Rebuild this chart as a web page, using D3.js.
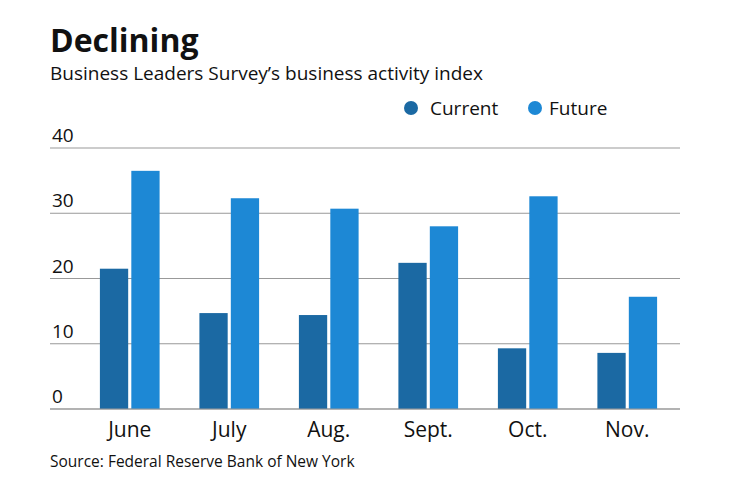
<!DOCTYPE html>
<html><head><meta charset="utf-8">
<script src="https://cdn.jsdelivr.net/npm/d3@7"></script>
<style>body{margin:0;background:#fff}text{font-family:"Open Sans","Noto Sans",sans-serif}</style>
</head><body>
<svg id="c" width="740" height="482"></svg>
<script>
const months = ["June","July","Aug.","Sept.","Oct.","Nov."];
const series = ["Current","Future"];
const current = [21.5,14.7,14.4,22.4,9.3,8.6];
const future = [36.5,32.3,30.7,28.0,32.6,17.2];
const yTicks = [0,10,20,30,40];
const colors = ["#1b69a3","#1d88d5"];

const svg = d3.select("#c");
const y = d3.scaleLinear().domain([0,40]).range([409,148]);
const x0 = d3.scaleBand().domain(months).range([80,677]).paddingInner(0.4).paddingOuter(0.2);
const x1 = d3.scaleBand().domain(series).range([0,x0.bandwidth()]).paddingInner(0.1);

svg.append("text").attr("x",50).attr("y",52).attr("font-size",32).attr("font-weight",700).attr("fill","#111").text("Declining");
svg.append("text").attr("x",50).attr("y",80).attr("font-size",19).attr("fill","#111").text("Business Leaders Survey\u2019s business activity index");

const lg = [{n:"Current",cx:411,tx:430},{n:"Future",cx:535,tx:549}];
lg.forEach((d,i)=>{
  svg.append("circle").attr("cx",d.cx).attr("cy",108).attr("r",7).attr("fill",colors[i]);
  svg.append("text").attr("x",d.tx).attr("y",115).attr("font-size",19).attr("fill","#111").text(d.n);
});

yTicks.forEach(t=>{
  svg.append("line").attr("x1",50).attr("x2",680).attr("y1",y(t)).attr("y2",y(t)).attr("stroke","#999").attr("stroke-width",1);
  svg.append("text").attr("x",52).attr("y",y(t)-6).attr("font-size",19).attr("fill","#111").text(t);
});

const data = months.map((m,i)=>({m, v:[current[i],future[i]]}));
const g = svg.append("g");
data.forEach(d=>{
  series.forEach((s,j)=>{
    g.append("rect").attr("x",x0(d.m)+x1(s)).attr("width",x1.bandwidth())
     .attr("y",y(d.v[j])).attr("height",y(0)-y(d.v[j])).attr("fill",colors[j]);
  });
});
svg.append("line").attr("x1",50).attr("x2",680).attr("y1",y(0)).attr("y2",y(0)).attr("stroke","#999");

months.forEach(m=>{
  svg.append("text").attr("x",x0(m)+x0.bandwidth()/2).attr("y",437).attr("text-anchor","middle").attr("font-size",21).attr("fill","#111").text(m);
});
svg.append("text").attr("x",50).attr("y",467).attr("font-size",15.5).attr("fill","#111").text("Source: Federal Reserve Bank of New York");
</script>
</body></html>
